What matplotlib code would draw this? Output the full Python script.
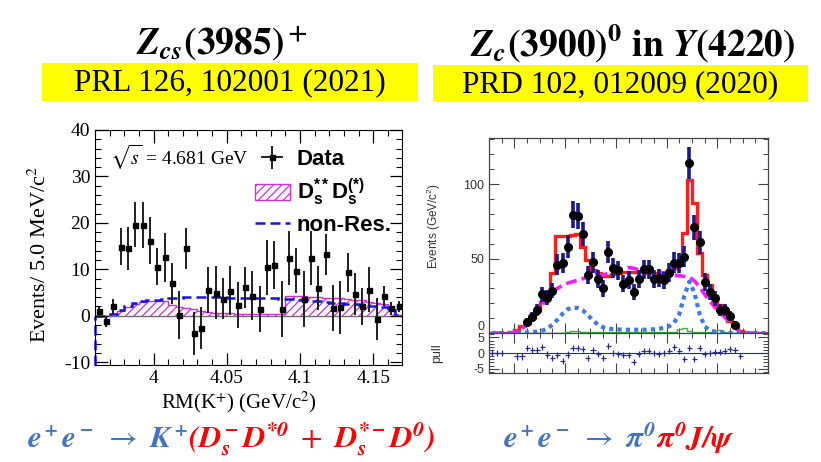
import numpy as np
import matplotlib
matplotlib.use("Agg")
import matplotlib.pyplot as plt
from matplotlib.patches import Rectangle
from matplotlib.ticker import MultipleLocator, FormatStrFormatter, NullFormatter

plt.rcParams["mathtext.fontset"] = "custom"
plt.rcParams["mathtext.rm"] = "Liberation Sans"
plt.rcParams["mathtext.it"] = "Liberation Sans:italic"
plt.rcParams["mathtext.bf"] = "Liberation Sans:bold"
plt.rcParams["hatch.linewidth"] = 0.9
plt.rcParams["axes.unicode_minus"] = False

SERIF = "Liberation Serif"
SANS = "Liberation Sans"
BLUE_TXT = "#4472c4"
RED_TXT = "#ff0000"

# --- Zcs(3985)+ : RM(K+) at sqrt(s) = 4.681 GeV, 5 MeV bins ---
rm_lo, rm_bin = 3.960, 0.005
rm_data = [1.0, -1.2, 2.0, 14.9, 14.5, 19.6, 19.5, 16.2, 10.6, 12.6,
           7.0, 0.1, 14.5, -3.8, -2.6, 5.5, 5.0, 3.7, 5.4, 2.3,
           6.1, 4.3, 1.4, 10.4, 10.9, 1.5, 12.5, 9.7, 3.6, 12.5,
           6.0, 13.2, 1.7, 1.8, 9.4, 4.7, 2.0, 5.6, -0.7, 4.3,
           1.6, 2.0]
rm_err = [0.8, 1.2, 1.7, 4.0, 4.7, 4.8, 5.0, 5.0, 4.0, 5.3,
          4.4, 5.2, 4.4, 4.6, 4.5, 5.0, 5.7, 4.5, 5.3, 5.0,
          4.5, 5.3, 5.0, 5.9, 5.2, 6.0, 5.8, 4.8, 6.0, 5.8,
          4.7, 4.5, 5.0, 5.7, 4.2, 4.5, 4.0, 4.8, 4.6, 2.2,
          1.4, 1.1]
rm_dsds = [0.0, 0.0, 0.3, 1.0, 1.8, 2.6, 2.9, 3.2, 3.2, 3.1,
           2.4, 1.8, 1.6, 1.4, 1.0, 0.8, 0.6, 0.5, 0.5, 0.4,
           0.4, 0.4, 0.4, 0.4, 0.4, 0.4, 4.3, 4.3, 4.2, 4.1,
           4.0, 3.9, 3.8, 3.8, 3.7, 3.5, 3.3, 3.0, 2.7, 2.5,
           1.5, 0.2]
rm_nonres = [0.0, 0.0, 0.4, 1.3, 2.0, 2.8, 3.2, 3.4, 3.5, 3.6,
             3.8, 3.9, 4.0, 4.1, 4.1, 4.1, 4.0, 4.0, 3.9, 3.9,
             3.9, 3.9, 3.9, 3.8, 3.8, 3.7, 3.7, 3.5, 3.4, 3.2,
             3.1, 2.9, 2.8, 2.7, 2.6, 2.5, 2.4, 2.2, 2.0, 1.8,
             1.2, 0.1]

# --- Zc(3900)0 in Y(4220) : pi0 J/psi mass, 10 MeV bins ---
mj_lo, mj_bin = 3.50, 0.01
mj_first = 7
mj_data = [7.2, 11.0, 15.5, 25.9, 23.8, 28.5, 46.0, 46.8, 58.0, 79.5,
           78.5, 66.3, 38.9, 47.4, 36.0, 30.0, 54.3, 43.5, 42.0, 33.0,
           35.7, 27.8, 36.5, 42.7, 42.7, 36.0, 36.7, 35.4, 40.4, 47.3,
           46.8, 51.3, 114.4, 71.1, 61.0, 34.3, 27.8, 23.2, 15.5, 15.6,
           11.3, 5.6]
mj_err = [2.7, 3.3, 3.9, 5.1, 4.9, 5.3, 6.8, 6.8, 7.6, 8.9,
          8.9, 8.1, 6.2, 6.9, 6.0, 5.5, 7.4, 6.6, 6.5, 5.7,
          6.0, 5.3, 6.0, 6.5, 6.5, 6.0, 6.1, 5.9, 6.4, 6.9,
          6.8, 7.2, 10.7, 8.4, 7.8, 5.9, 5.3, 4.8, 3.9, 3.9,
          3.4, 2.4]
mj_total = [0, 0, 0, 0, 0.5, 2, 4.5, 7, 11, 16,
            21, 27, 40, 65, 65, 65.5, 66, 66.5, 58, 49,
            42, 40, 38.5, 38.5, 39.5, 40.5, 41, 41, 41, 41,
            41, 40.5, 40.5, 40.5, 41, 42, 44, 46, 67, 103,
            87, 54, 39, 32, 25, 18.5, 14, 8.3, 4.5, 1.6,
            0, 0, 0, 0, 0]
mj_bkg = [0, 0, 0, 0, 0, 1, 3, 6, 10, 14,
          19, 23.5, 27.5, 30, 32, 33.5, 34.5, 35.5, 36.5, 37.5,
          38, 38.5, 39, 40, 41, 42, 43, 44, 43.5, 42.5,
          42, 41.5, 41, 40.5, 40, 39.5, 39, 38.5, 38, 37.5,
          35, 31, 26, 21.5, 17.5, 14, 10.5, 7, 3.5, 1,
          0, 0, 0, 0, 0]
mj_zc = [0, 0, 0, 0, 0, 0, 0, 0.3, 0.6, 1,
         1.6, 3, 5.5, 9, 13, 16, 17, 16.8, 15.2, 12,
         8.5, 5.5, 3.8, 3, 2.6, 2.4, 2.2, 2.2, 2.2, 2.2,
         2.2, 2.3, 2.5, 2.8, 3.5, 4.5, 7, 12.5, 25, 34.5,
         27, 13, 4.5, 1.8, 1, 0.6, 0.3, 0, 0, 0,
         0, 0, 0, 0, 0]
mj_other = [0, 0, 0, 0, 0, 0, 0, 0.3, 0.3, 0.3,
            0.3, 0.3, 0.3, 0.3, 0.3, 0.8, 1.5, 1.6, 1.0, 0.6,
            0.6, 0.6, 0.6, 0.6, 0.6, 0.6, 0.6, 0.6, 0.6, 0.6,
            0.6, 0.6, 0.6, 0.6, 0.6, 0.6, 1.0, 2.5, 3.2, 1.2,
            0.5, 0.6, 0.6, 0.6, 1.5, 2.2, 1.0, 0.2, 0.2, 0.2,
            0, 0, 0, 0, 0]
mj_pull = [0, 0, 0, np.nan, np.nan, -1.1, -1.1, 1.6, 1.0, 1.0,
           2.0, -0.5, -1.5, -0.6, -2.6, -0.5, 1.6, 1.5, 1.2, -1.5,
           1.0, -0.4, -1.5, 2.3, 0.1, -0.2, -0.6, -0.6, -2.8, -0.4,
           0.6, 0.6, 0.1, -0.2, 0.1, 0.6, 1.9, 0.6, -1.8, 1.5,
           -1.8, 1.5, -0.4, 0.1, 0.4, 0.3, 0.6, 1.2, 0.9, -1.0,
           np.nan, np.nan, np.nan, np.nan, np.nan]

W, H = 821, 462


def fx(px):
    return px / W


def fy(py):
    return 1 - py / H


fig = plt.figure(figsize=(W / 100, H / 100), dpi=100)

# ---------------- left panel ----------------
rm_edges = rm_lo + rm_bin * np.arange(len(rm_data) + 1)
rm_x = rm_edges[:-1] + rm_bin / 2

ax = fig.add_axes([fx(95), fy(365), fx(402 - 95), (365 - 130) / H])
ax.stairs(rm_dsds, rm_edges, fill=True, facecolor="none", edgecolor="#d22fd2",
          hatch="////", lw=1.0, label=r"$\mathbf{D_s^{**}D_s^{(*)}}$")
ax.axhline(0, color="#6e6e6e", lw=1.0, zorder=1.5)
dash = (0, (4, 2))
ax.stairs(rm_nonres, rm_edges, baseline=None, color="#1414f0", lw=1.8,
          ls=dash, label="non-Res.")
ax.vlines(rm_edges[0], -10.6, rm_nonres[0], color="#1414f0", lw=1.8, ls=dash,
          clip_on=False)
ax.errorbar(rm_x, rm_data, yerr=rm_err, xerr=0, fmt="s", ms=3.6, color="black",
            ecolor="#202020", elinewidth=1.4, capsize=0, label="Data", zorder=4)
ax.set_xlim(rm_edges[0], rm_edges[-1] - 0.0003)
ax.set_ylim(-10.6, 40)
ax.xaxis.set_major_locator(MultipleLocator(0.05))
ax.xaxis.set_minor_locator(MultipleLocator(0.01))
ax.xaxis.set_major_formatter(FormatStrFormatter("%g"))
ax.yaxis.set_major_locator(MultipleLocator(10))
ax.yaxis.set_minor_locator(MultipleLocator(2))
ax.tick_params(which="both", direction="in", top=True, right=True,
               labelsize=14, labelfontfamily=SERIF)
ax.tick_params(which="major", length=9, width=0.9)
ax.tick_params(which="minor", length=4.5, width=0.8)
ax.set_ylabel("Events/ 5.0 MeV/c$^2$", fontsize=16, family=SERIF,
              math_fontfamily="stix")
ax.set_xlabel("RM(K$^{+}$) (GeV/c$^2$)", fontsize=15, family=SERIF,
              math_fontfamily="stix")
ax.yaxis.set_label_coords(-0.145, 0.47)
ax.xaxis.set_label_coords(0.47, -0.105)
ax.text(0.05, 0.885, r"$\sqrt{s}$ = 4.681 GeV", transform=ax.transAxes,
        fontsize=14, family=SERIF, math_fontfamily="stix", va="center")
h, l = ax.get_legend_handles_labels()
order = [l.index("Data"), l.index(r"$\mathbf{D_s^{**}D_s^{(*)}}$"), l.index("non-Res.")]
ax.legend([h[i] for i in order], [l[i] for i in order], loc="upper right",
          bbox_to_anchor=(1.01, 0.975), frameon=False, handlelength=1.6,
          handletextpad=0.3, labelspacing=0.3, borderaxespad=0.2,
          prop={"family": SANS, "weight": "bold", "size": 16})

# ---------------- right panel ----------------
mj_edges = mj_lo + mj_bin * np.arange(len(mj_total) + 1)
mj_x = mj_edges[:-1] + mj_bin / 2
data_x = mj_x[mj_first:mj_first + len(mj_data)]

axm = fig.add_axes([fx(489), fy(333), fx(768 - 489), (333 - 138) / H])
axp = fig.add_axes([fx(489), fy(373), fx(768 - 489), (373 - 333) / H], sharex=axm)

axm.stairs(mj_total, mj_edges, baseline=None, color="#ff1e1e", lw=2.4, zorder=2)
axm.stairs(mj_other, mj_edges, baseline=None, color="#3cb043", lw=1.0, zorder=2.2)
axm.plot(mj_x, mj_bkg, color="#ff19ff", lw=2.6, ls=(0, (3, 1.4)), zorder=2.5)
axm.plot(mj_x, mj_zc, color="#3d7be3", lw=3.0, ls=(0, (1, 1)), zorder=2.6)
axm.errorbar(data_x, mj_data, yerr=mj_err, fmt="o", ms=5.5, color="black",
             ecolor="#1a1a8c", elinewidth=2.6, capsize=0, zorder=5)
axm.set_xlim(mj_edges[0], mj_edges[-1])
axm.set_ylim(0, 131)
axm.set_yticks([0, 50, 100])
axm.yaxis.set_minor_locator(MultipleLocator(10))
axm.set_ylabel("Events (GeV/c$^2$)", fontsize=8.5, family=SANS, color="#333333")
axm.yaxis.set_label_coords(-0.165, 0.55)

pull = np.array(mj_pull)
ok = ~np.isnan(pull)
axp.axhline(0, color="#2a2a8a", lw=0.8)
axp.errorbar(mj_x[ok], pull[ok], xerr=mj_bin / 2, yerr=1, fmt="none",
             ecolor="#2a2a8a", elinewidth=0.9, capsize=0)
axp.set_ylim(-6.4, 6.4)
axp.set_yticks([-5, 0, 5])
axp.yaxis.set_minor_locator(MultipleLocator(1))
axp.set_ylabel("pull", fontsize=9, family=SANS, color="#333333")
axp.yaxis.set_label_coords(-0.165, 0.5)

for a in (axm, axp):
    a.xaxis.set_major_locator(MultipleLocator(0.1, offset=0.05))
    a.xaxis.set_minor_locator(MultipleLocator(0.025))
    a.xaxis.set_major_formatter(NullFormatter())
    a.tick_params(which="both", direction="in", top=True, right=True,
                  labelsize=9, labelcolor="#333333", labelfontfamily=SANS,
                  color="#444444")
    a.tick_params(which="major", length=7, width=0.8)
    a.tick_params(which="minor", length=3.5, width=0.7)
    for s in a.spines.values():
        s.set_color("#444444")
        s.set_linewidth(0.9)

# keep the "0" of the main panel clear of the "5" of the pull panel
axm.yaxis.get_major_ticks()[0].label1.set_va("bottom")

# ---------------- headings ----------------
fig.text(fx(222), fy(43), r"$\mathbfit{Z}_{\mathbfit{cs}}\mathbf{(3985)^+}$",
         ha="center", va="center", fontsize=27, math_fontfamily="stix")
fig.text(fx(633), fy(43),
         r"$\mathbfit{Z}_{\mathbfit{c}}\mathbf{(3900)^0\ in\ }\mathbfit{Y}\mathbf{(4220)}$",
         ha="center", va="center", fontsize=27, math_fontfamily="stix")

for (x0, x1, y0, y1), ref in [((42, 418, 63, 101), "PRL 126, 102001 (2021)"),
                              ((433, 808, 65, 102), "PRD 102, 012009 (2020)")]:
    fig.add_artist(Rectangle((fx(x0), fy(y1)), fx(x1 - x0), (y1 - y0) / H,
                             transform=fig.transFigure, facecolor="#ffff00",
                             edgecolor="none"))
    fig.text(fx((x0 + x1) / 2), fy((y0 + y1) / 2 + 1), ref, ha="center",
             va="center", fontsize=22.5, family=SERIF)

# ---------------- reaction formulas ----------------
renderer = fig.canvas.get_renderer()


def formula(parts, x_px, base_px, size):
    x = fx(x_px)
    for s, c in parts:
        t = fig.text(x, fy(base_px), s, color=c, fontsize=size, ha="left",
                     va="baseline", math_fontfamily="stix")
        x += t.get_window_extent(renderer).width / fig.bbox.width


formula([(r"$\mathbfit{e^+e^-}\ \rightarrow\ \mathbfit{K^+}$", BLUE_TXT),
         (r"$\mathbfit{(D_s^-D^{*0}}\ +\ \mathbfit{D_s^{*-}D^0)}$", RED_TXT)],
        27, 448, 22.5)
formula([(r"$\mathbfit{e^+e^-}\ \rightarrow\ \mathbfit{\pi^0}$", BLUE_TXT),
         (r"$\mathbfit{\pi^0J/\psi}$", RED_TXT)], 503, 448, 22.5)

fig.savefig("out.png", dpi=100)
